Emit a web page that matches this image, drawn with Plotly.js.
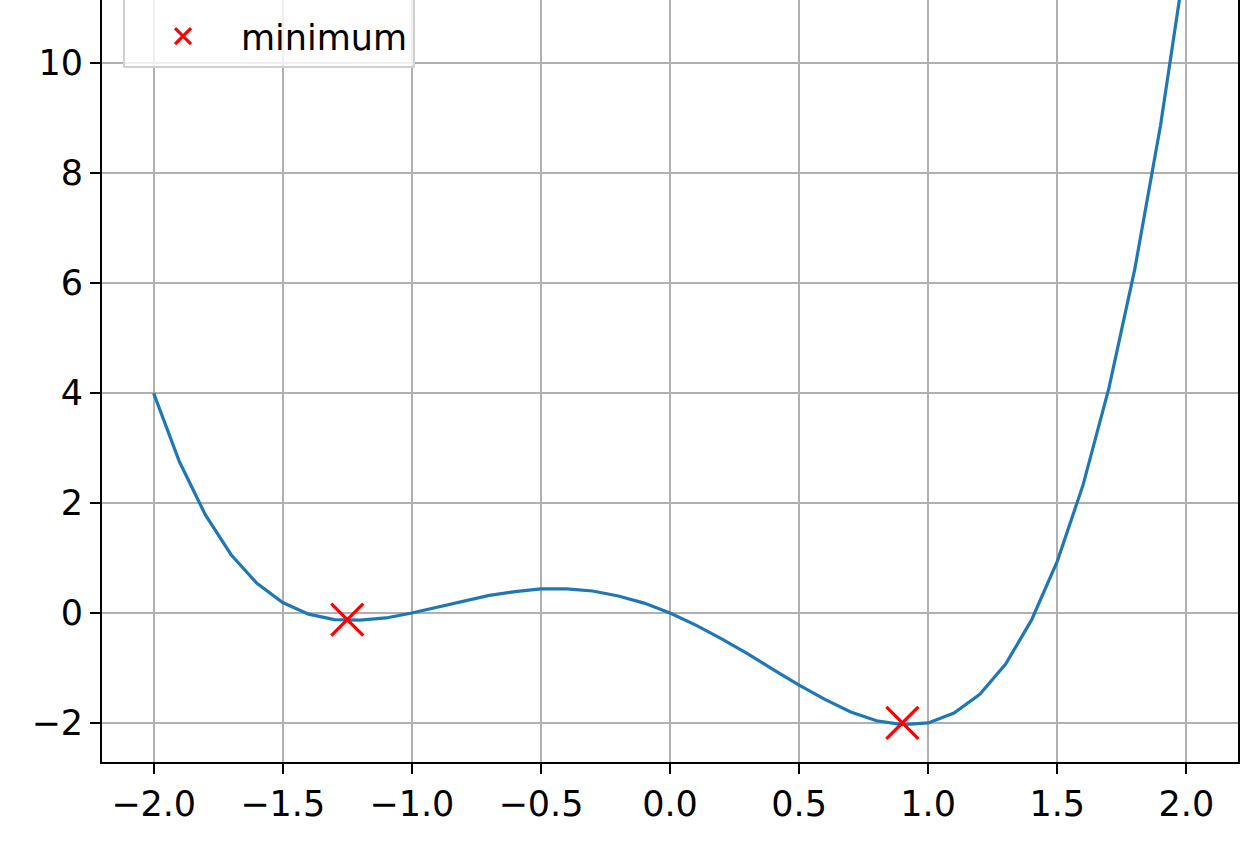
<!DOCTYPE html>
<html>
<head>
<meta charset="utf-8">
<script src="https://cdn.plot.ly/plotly-3.0.1.min.js"></script>
<style>html,body{margin:0;padding:0;background:#fff;}#chart{width:1256px;height:848px;}</style>
</head>
<body>
<div id="chart"></div>
<script>
// curve samples (x step 0.1)
const curveX = [-2.0,-1.9,-1.8,-1.7,-1.6,-1.5,-1.4,-1.3,-1.2,-1.1,-1.0,-0.9,-0.8,-0.7,-0.6,-0.5,-0.4,-0.3,-0.2,-0.1,0.0,
                0.1,0.2,0.3,0.4,0.5,0.6,0.7,0.8,0.9,1.0,1.1,1.2,1.3,1.4,1.5,1.6,1.7,1.8,1.9,2.0];
const curveY = [4.00,2.75,1.79,1.06,0.54,0.19,-0.02,-0.12,-0.13,-0.09,0.00,0.11,0.22,0.32,0.39,0.44,0.44,0.40,0.31,0.18,0.00,
                -0.22,-0.47,-0.74,-1.03,-1.31,-1.57,-1.80,-1.96,-2.03,-2.00,-1.82,-1.48,-0.93,-0.13,0.94,2.33,4.09,6.25,8.87,12.00];
// minima markers
const minX = [-1.25, 0.90];
const minY = [-0.12, -2.00];
const xTicks = [-2.0,-1.5,-1.0,-0.5,0.0,0.5,1.0,1.5,2.0];
const xTickText = ["−2.0","−1.5","−1.0","−0.5","0.0","0.5","1.0","1.5","2.0"];
const yTicks = [-2,0,2,4,6,8,10];
const yTickText = ["−2","0","2","4","6","8","10"];

const font = "DejaVu Sans, sans-serif";

const traces = [
  {x: curveX, y: curveY, mode: "lines", name: "f(x)", showlegend: false,
   line: {color: "#1f77b4", width: 3.2}, hoverinfo: "x+y"},
  {x: minX, y: minY, mode: "markers", name: "minimum",
   marker: {symbol: "x-thin", size: 32, color: "red", line: {color: "red", width: 3.2}}}
];

const axisCommon = {
  showline: true, linecolor: "#000", linewidth: 2, mirror: true,
  ticks: "outside", ticklen: 10, tickwidth: 2, tickcolor: "#000",
  showgrid: true, gridcolor: "#b0b0b0", gridwidth: 2,
  zeroline: false, tickfont: {family: font, size: 35, color: "#000"},
  tickmode: "array"
};

const layout = {
  width: 1256, height: 848,
  margin: {l: 102, r: 18, t: 0, b: 86, autoexpand: false},
  paper_bgcolor: "#fff", plot_bgcolor: "#fff",
  xaxis: Object.assign({}, axisCommon, {range: [-2.2, 2.2], tickvals: xTicks, ticktext: xTickText}),
  yaxis: Object.assign({}, axisCommon, {range: [-2.71, 11.15], tickvals: yTicks, ticktext: yTickText}),
  showlegend: true,
  legend: {x: 0.0185, xanchor: "left", y: 0.911, yanchor: "bottom",
           bgcolor: "rgba(255,255,255,0.8)", bordercolor: "#d0d0d0", borderwidth: 2,
           itemwidth: 106, entrywidth: 365,
           title: {text: " ", font: {family: font, size: 30}},
           font: {family: font, size: 35, color: "#000"}, itemsizing: "trace"},
  hovermode: "closest"
};

Plotly.newPlot("chart", traces, layout, {displayModeBar: false});
</script>
</body>
</html>
